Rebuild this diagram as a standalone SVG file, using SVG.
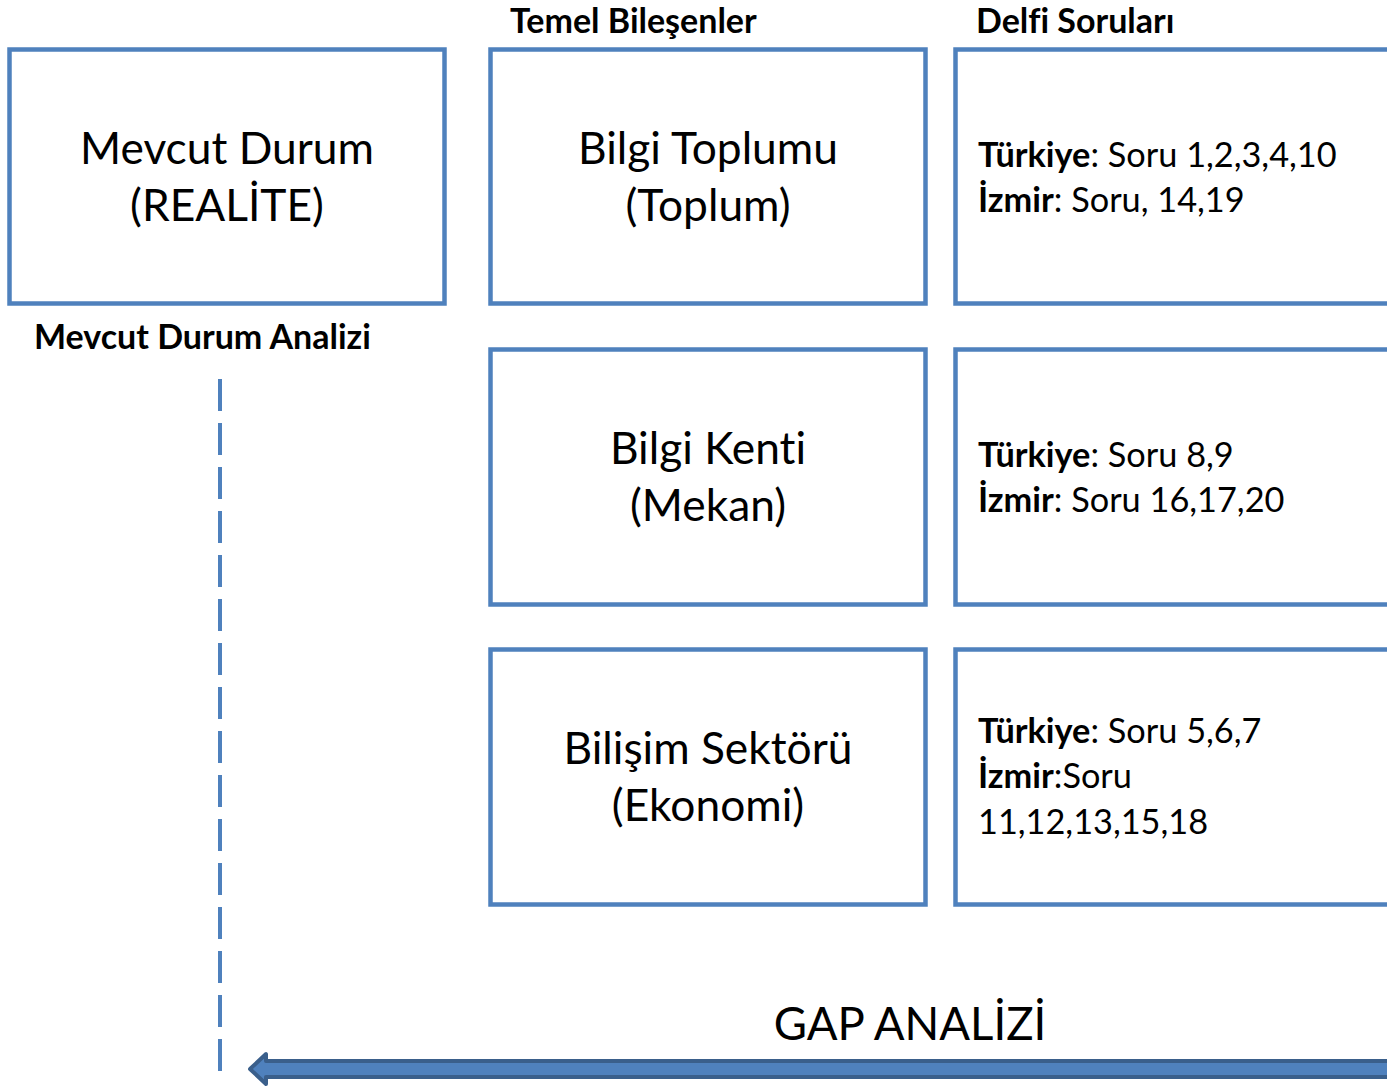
<svg xmlns="http://www.w3.org/2000/svg" width="1387" height="1089" viewBox="0 0 1387 1089">
  <style>
    text { font-family: Lato, "Liberation Sans", sans-serif; fill: #000; font-variant-ligatures: none; font-feature-settings: "liga" 0, "dlig" 0; }
    .box { fill: #ffffff; stroke: #4f81bd; stroke-width: 4.5; }
    .main { font-size: 44.3px; text-anchor: middle; }
    .gap { font-size: 45.5px; text-anchor: middle; }
    .head { font-size: 34px; font-weight: bold; }
    .q { font-size: 34.3px; }
    .q .b { font-weight: bold; }
  </style>
  <rect width="1387" height="1089" fill="#ffffff"/>

  <!-- column headers -->
  <text class="head" x="510" y="33">Temel Bileşenler</text>
  <text class="head" x="976" y="33">Delfi Soruları</text>
  <text class="head" x="34" y="349">Mevcut Durum Analizi</text>

  <!-- current state -->
  <g id="mevcut-durum">
    <rect class="box" x="9.5" y="49.5" width="435" height="254"/>
    <text class="main" x="227" y="164">Mevcut Durum</text>
    <text class="main" x="227" y="221">(REALİTE)</text>
  </g>

  <!-- core components -->
  <g id="bilgi-toplumu">
    <rect class="box" x="490.5" y="49.5" width="435" height="254"/>
    <text class="main" x="708" y="164">Bilgi Toplumu</text>
    <text class="main" x="708" y="221">(Toplum)</text>
  </g>
  <g id="bilgi-kenti">
    <rect class="box" x="490.5" y="349.5" width="435" height="255"/>
    <text class="main" x="708" y="464">Bilgi Kenti</text>
    <text class="main" x="708" y="521">(Mekan)</text>
  </g>
  <g id="bilisim-sektoru">
    <rect class="box" x="490.5" y="649.5" width="435" height="255"/>
    <text class="main" x="708" y="764">Bilişim Sektörü</text>
    <text class="main" x="708" y="821">(Ekonomi)</text>
  </g>

  <!-- Delphi questions -->
  <g id="sorular-toplum">
    <rect class="box" x="955.5" y="49.5" width="460" height="254"/>
    <text class="q" x="978" y="167"><tspan class="b">Türkiye</tspan>: Soru 1,2,3,4,10</text>
    <text class="q" x="978" y="212"><tspan class="b">İzmir</tspan>: Soru, 14,19</text>
  </g>
  <g id="sorular-mekan">
    <rect class="box" x="955.5" y="349.5" width="460" height="255"/>
    <text class="q" x="978" y="467"><tspan class="b">Türkiye</tspan>: Soru 8,9</text>
    <text class="q" x="978" y="512"><tspan class="b">İzmir</tspan>: Soru 16,17,20</text>
  </g>
  <g id="sorular-ekonomi">
    <rect class="box" x="955.5" y="649.5" width="460" height="255"/>
    <text class="q" x="978" y="743"><tspan class="b">Türkiye</tspan>: Soru 5,6,7</text>
    <text class="q" x="978" y="788"><tspan class="b">İzmir</tspan>:Soru</text>
    <text class="q" x="978" y="834">11,12,13,15,18</text>
  </g>

  <!-- connectors -->
  <g id="connectors">
    <line x1="220" y1="379" x2="220" y2="1072" stroke="#4f81bd" stroke-width="4" stroke-dasharray="32 12"/>
    <path d="M250,1069 L266,1054 L266,1061 L1392,1061 L1392,1077 L266,1077 L266,1084 Z" fill="#4f81bd" stroke="#3a5f8b" stroke-width="4" stroke-linejoin="round"/>
    <text class="gap" x="910" y="1040">GAP ANALİZİ</text>
  </g>
</svg>
